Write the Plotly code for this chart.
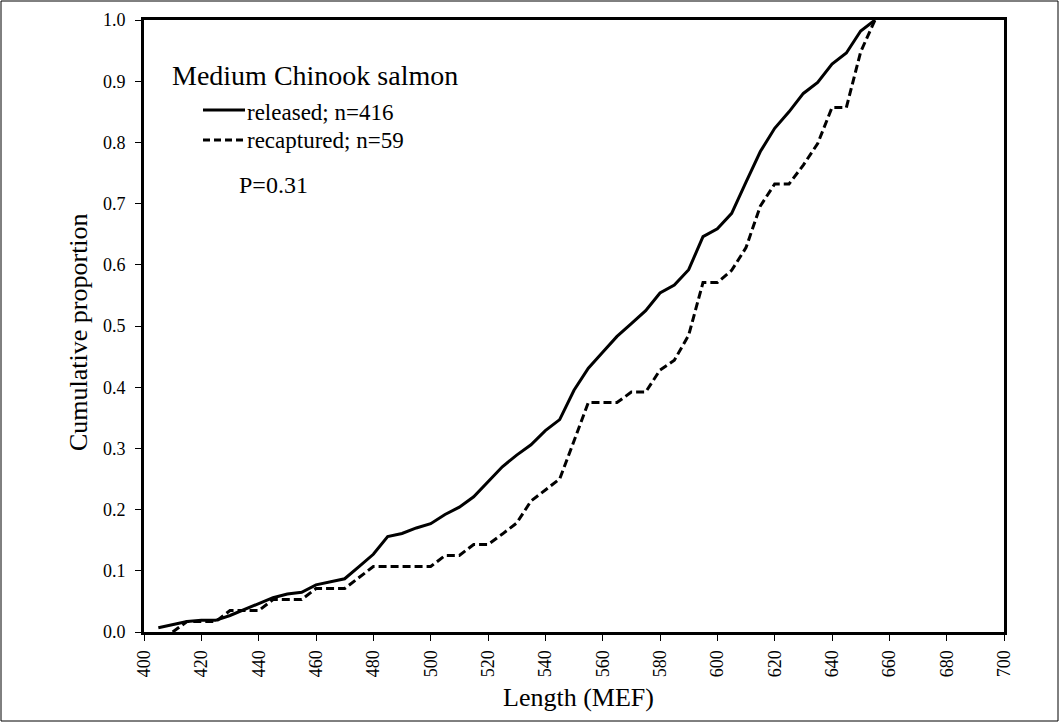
import plotly.graph_objects as go

# ---- data ----
length_released = [405, 410, 415, 420, 425, 430, 435, 440, 445, 450, 455, 460, 465, 470, 475,
                   480, 485, 490, 495, 500, 505, 510, 515, 520, 525, 530, 535, 540, 545, 550,
                   555, 560, 565, 570, 575, 580, 585, 590, 595, 600, 605, 610, 615, 620, 625,
                   630, 635, 640, 645, 650, 655]
released = [0.007, 0.012, 0.017, 0.019, 0.019, 0.027, 0.037, 0.046, 0.056, 0.062, 0.065, 0.077,
            0.082, 0.087, 0.107, 0.127, 0.156, 0.161, 0.170, 0.177, 0.192, 0.204, 0.221, 0.245,
            0.270, 0.289, 0.306, 0.329, 0.347, 0.395, 0.431, 0.457, 0.483, 0.504, 0.525, 0.554,
            0.567, 0.592, 0.646, 0.659, 0.684, 0.735, 0.785, 0.823, 0.850, 0.880, 0.898, 0.928,
            0.946, 0.982, 1.0]

length_recaptured = [410, 415, 420, 425, 430, 435, 440, 445, 450, 455, 460, 465, 470, 475, 480,
                     485, 490, 495, 500, 505, 510, 515, 520, 525, 530, 535, 540, 545, 550, 555,
                     560, 565, 570, 575, 580, 585, 590, 595, 600, 605, 610, 615, 620, 625, 630,
                     635, 640, 645, 650, 655]
recaptured = [0.0, 0.017, 0.017, 0.017, 0.035, 0.035, 0.035, 0.053, 0.053, 0.053, 0.071, 0.071,
              0.071, 0.089, 0.107, 0.107, 0.107, 0.107, 0.107, 0.125, 0.125, 0.143, 0.143, 0.160,
              0.178, 0.214, 0.232, 0.250, 0.312, 0.375, 0.375, 0.375, 0.392, 0.392, 0.428, 0.444,
              0.485, 0.571, 0.571, 0.591, 0.628, 0.696, 0.732, 0.732, 0.763, 0.798, 0.857, 0.857,
              0.948, 1.0]

series_names = ["released; n=416", "recaptured; n=59"]
chart_title = "Medium Chinook salmon"
p_text = "P=0.31"
x_title = "Length (MEF)"
y_title = "Cumulative proportion"
x_tick_values = list(range(400, 701, 20))
y_tick_values = [i / 10 for i in range(0, 11)]

# ---- layout geometry (pixels) ----
W, H = 1060, 723
L, R, T, B = 144, 1004, 20, 632
FONT = "Liberation Serif"
DASH = "8px,4px"


def px(xp):
    return (xp - L) / (R - L)


def py(yp):
    return (B - yp) / (B - T)


fig = go.Figure()
fig.add_trace(go.Scatter(x=length_released, y=released, mode="lines", name=series_names[0],
                         line=dict(color="black", width=3), showlegend=False))
fig.add_trace(go.Scatter(x=length_recaptured, y=recaptured, mode="lines", name=series_names[1],
                         line=dict(color="black", width=3, dash=DASH), showlegend=False))

shapes = [
    # outer frame
    dict(type="rect", xref="paper", yref="paper", x0=px(1), x1=px(1058), y0=py(721), y1=py(1),
         line=dict(color="black", width=1), layer="below"),
    # legend samples
    dict(type="line", xref="paper", yref="paper", x0=px(203), x1=px(245), y0=py(110), y1=py(110),
         line=dict(color="black", width=3)),
    dict(type="line", xref="paper", yref="paper", x0=px(203), x1=px(245), y0=py(140), y1=py(140),
         line=dict(color="black", width=3, dash="7px,4px")),
]


def ann(text, x, y, size, xanchor="left", angle=0):
    return dict(text=text, xref="paper", yref="paper", x=px(x), y=py(y), xanchor=xanchor,
                yanchor="middle", showarrow=False, textangle=angle,
                font=dict(family=FONT, size=size, color="black"))


annotations = [
    ann(chart_title, 170, 75, 28),
    ann(series_names[0], 245, 112, 23),
    ann(series_names[1], 245, 141, 23),
    ann(p_text, 237, 185, 24),
    ann(x_title, 578, 697, 26, xanchor="center"),
    ann(y_title, 78, 332, 26, xanchor="center", angle=-90),
]

fig.update_layout(
    width=W, height=H,
    margin=dict(l=L, r=W - R, t=T, b=H - B, pad=0),
    paper_bgcolor="white", plot_bgcolor="white",
    font=dict(family=FONT, size=18, color="black"),
    shapes=shapes, annotations=annotations, showlegend=False,
    xaxis=dict(range=[400, 700], tickvals=x_tick_values, tickangle=-90, automargin=False,
               ticks="outside", ticklen=6, tickwidth=1, tickcolor="black",
               showline=True, linecolor="black", linewidth=3, mirror=True,
               showgrid=False, zeroline=False, ticklabelstandoff=2,
               tickfont=dict(family=FONT, size=18)),
    yaxis=dict(range=[0, 1], tickvals=y_tick_values, tickformat=".1f", automargin=False,
               ticks="outside", ticklen=6, tickwidth=1, tickcolor="black",
               showline=True, linecolor="black", linewidth=3, mirror=True,
               showgrid=False, zeroline=False, ticklabelstandoff=6,
               tickfont=dict(family=FONT, size=18)),
)

fig.write_html("out.html", config={"displayModeBar": False},
               post_script="document.body.style.margin='0';document.body.style.overflow='hidden';")
